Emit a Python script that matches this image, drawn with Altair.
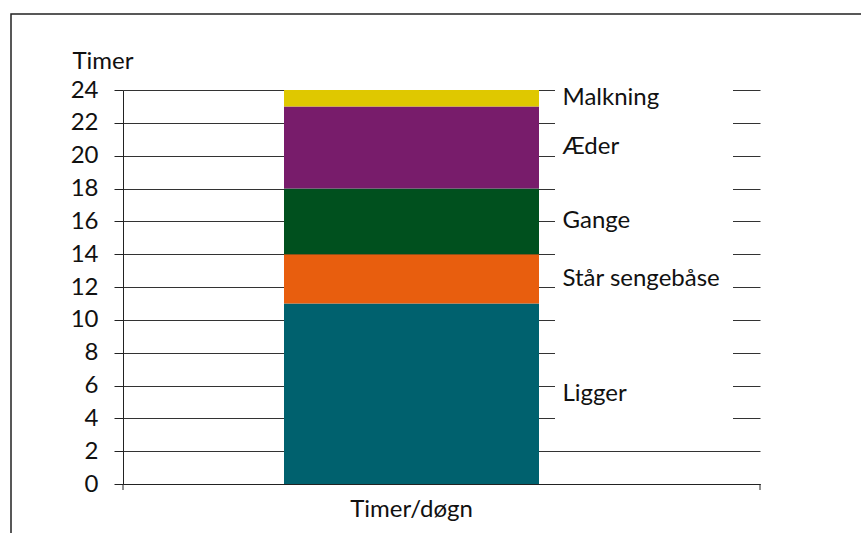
import altair as alt
import pandas as pd

# Time budget of a dairy cow over one day (hours)
activities = ["Ligger", "Står sengebåse", "Gange", "Æder", "Malkning"]
hours = [11, 3, 4, 5, 1]
colors = ["#00616E", "#E85E0E", "#00501E", "#781C6B", "#DFC800"]
category = "Timer/døgn"
y_ticks = list(range(0, 25, 2))

df = pd.DataFrame({"activity": activities, "hours": hours, "cat": category})
df["end"] = df["hours"].cumsum()
df["start"] = df["end"] - df["hours"]
df["mid"] = (df["start"] + df["end"]) / 2

FONT = "Lato"
FS = 24
INK = "#222222"
TXT = "#111111"
SHIFT = -30  # bar and category label sit left of the band centre

x_scale = alt.Scale(paddingInner=0, paddingOuter=0)
x_axis = alt.Axis(
    title=None, ticks=False, domainColor=INK, labelFont=FONT,
    labelFontSize=FS, labelColor=TXT, labelPadding=13, labelAngle=0,
    labelOffset=SHIFT,
)
y_scale = alt.Scale(domain=[0, 24], nice=False)
y_axis = alt.Axis(
    values=y_ticks, grid=True, gridColor="#333333", gridWidth=1,
    tickColor=INK, tickSize=9, domainColor=INK, labelOverlap=False,
    labelFont=FONT, labelFontSize=FS, labelColor=TXT, labelPadding=16,
    title="Timer", titleAngle=0, titleAlign="left", titleBaseline="alphabetic",
    titleX=-51, titleY=-22, titleFont=FONT, titleFontSize=FS,
    titleFontWeight="normal", titleColor=TXT,
)

base = alt.Chart(df)

bars = base.mark_bar(size=255, xOffset=SHIFT).encode(
    x=alt.X("cat:N", scale=x_scale, axis=x_axis),
    y=alt.Y("start:Q", scale=y_scale, axis=y_axis),
    y2="end:Q",
    color=alt.Color("activity:N", scale=alt.Scale(domain=activities, range=colors), legend=None),
)

# white panel behind the activity labels, interrupting the grid lines
label_bg = alt.Chart(pd.DataFrame({"a": [0]})).mark_rect(color="white").encode(
    x=alt.value(432), x2=alt.value(610),
    y=alt.datum(3, scale=y_scale, axis=y_axis), y2=alt.datum(24.3),
)

labels = base.mark_text(
    align="left", baseline="middle", dx=121, font=FONT, fontSize=FS, color=TXT
).encode(
    x=alt.X("cat:N", scale=x_scale, axis=x_axis),
    y=alt.Y("mid:Q", scale=y_scale, axis=y_axis),
    text="activity:N",
)

# category boundary ticks below the x axis
tick_left = alt.Chart(pd.DataFrame({"a": [0]})).mark_rule(color=INK).encode(
    x=alt.value(0), y=alt.value(394), y2=alt.value(400)
)
tick_right = alt.Chart(pd.DataFrame({"a": [0]})).mark_rule(color=INK).encode(
    x=alt.value(637), y=alt.value(394), y2=alt.value(400)
)

# outer frame
frame = alt.Chart(pd.DataFrame({"a": [0]})).mark_rect(
    filled=False, stroke=INK, strokeWidth=1.5
).encode(x=alt.value(-112), x2=alt.value(900), y=alt.value(-76), y2=alt.value(700))

chart = alt.layer(bars, label_bg, labels, tick_left, tick_right, frame).properties(
    width=637, height=394,
    autosize=alt.AutoSizeParams(type="none"),
    padding={"left": 123, "top": 90, "right": 101, "bottom": 49},
    background="white",
).configure_view(stroke=None)

chart.save("out.html", embed_options={"renderer": "svg", "actions": False})
